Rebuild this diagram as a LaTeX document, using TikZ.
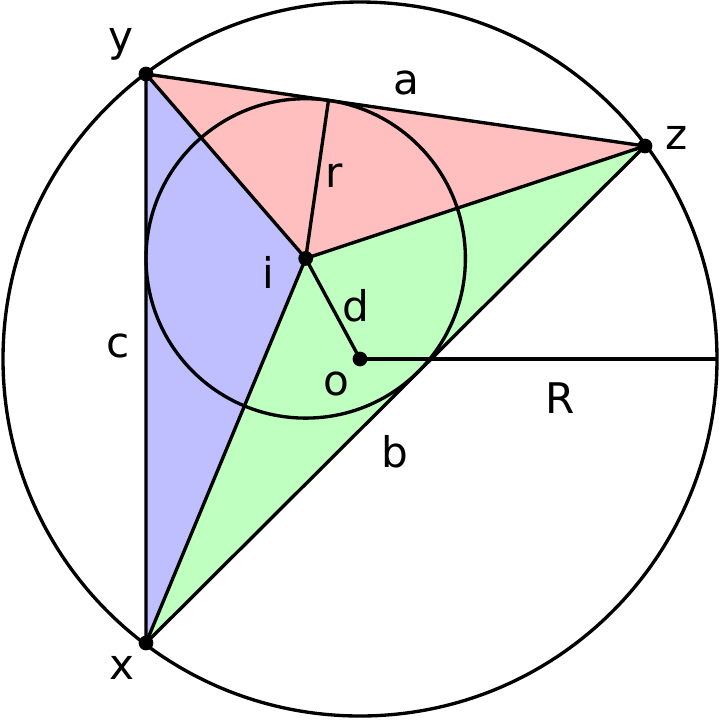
\documentclass[tikz,border=0pt]{standalone}
\usepackage{fontspec}
\setmainfont{DejaVu Sans}
\usetikzlibrary{calc}
\definecolor{pinkf}{HTML}{FFBFBF}
\definecolor{bluef}{HTML}{BFBFFF}
\definecolor{greenf}{HTML}{BFFFBF}
\tikzset{
  geo/.style={line width=0.95pt, black},
  dot/.style={circle, fill=black, inner sep=0pt, minimum size=4.2pt},
  lbl/.style={font=\fontsize{12}{12}\selectfont, inner sep=0pt}
}
\begin{document}
\begin{tikzpicture}[x=0.01cm, y=-0.01cm]
\useasboundingbox (0,0) rectangle (720,720);
\coordinate (O) at (360,359);
\coordinate (Y) at (146,74);
\coordinate (Z) at (645,146);
\coordinate (X) at (146,643);
\coordinate (I) at (305.7,258.4);
\coordinate (E) at (717,359);
\coordinate (T) at ($(Y)!(I)!(Z)$);
\fill[pinkf] (Y) -- (Z) -- (I) -- cycle;
\fill[bluef] (Y) -- (I) -- (X) -- cycle;
\fill[greenf] (X) -- (I) -- (Z) -- cycle;
\draw[geo] (O) circle[radius=357];
\draw[geo] (I) circle[radius=159.7];
\draw[geo] (X) -- (Y) -- (Z) -- cycle;
\draw[geo] (Y) -- (I) (Z) -- (I) (X) -- (I);
\draw[geo] (I) -- (T);
\draw[geo] (I) -- (O);
\draw[geo] (O) -- (E);
\node[dot] (y) at (Y) {};
\node[dot] (z) at (Z) {};
\node[dot] (x) at (X) {};
\node[dot] (i) at (I) {};
\node[dot] (o) at (O) {};
\node[lbl] (ly) at (121,44) {y};
\node[lbl] (lz) at (677,138) {z};
\node[lbl] (lx) at (122,668) {x};
\node[lbl] (la) at (406,83) {a};
\node[lbl] (lr) at (334,176) {r};
\node[lbl] (li) at (268,272) {i};
\node[lbl] (ld) at (356,306) {d};
\node[lbl] (lo) at (336,384) {o};
\node[lbl] (lR) at (560,398) {R};
\node[lbl] (lb) at (395,452) {b};
\node[lbl] (lc) at (118,346) {c};
\end{tikzpicture}
\end{document}
